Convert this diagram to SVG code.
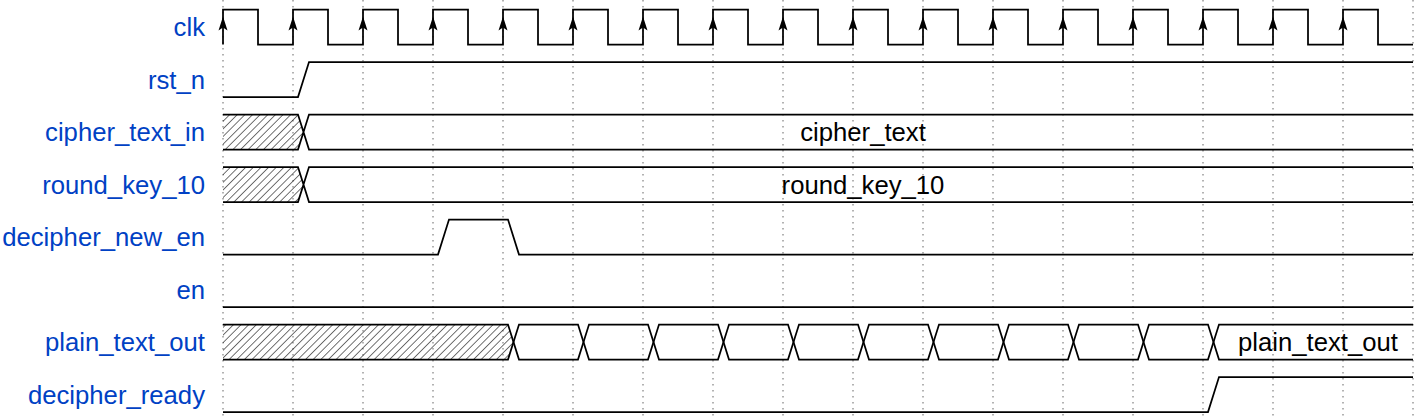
<svg xmlns="http://www.w3.org/2000/svg" width="1416" height="418" viewBox="0 0 1416 418">
<style>
.lbl{font-family:"Liberation Sans",Arial,sans-serif;font-size:25.7px;fill:#0041c4;text-anchor:end}
.dat{font-family:"Liberation Sans",Arial,sans-serif;font-size:25.7px;fill:#000;text-anchor:middle}
.w{fill:none;stroke:#000;stroke-width:1.75;stroke-linejoin:miter}
.g{stroke:#999;stroke-width:1.5;stroke-dasharray:1.5 4.5}
.hx{fill:url(#hatch);stroke:none}
</style>
<defs>
<pattern id="hatch" patternUnits="userSpaceOnUse" width="5.4" height="10" patternTransform="rotate(45)">
<line x1="0" y1="0" x2="0" y2="10" stroke="#000" stroke-width="1.1"/>
</pattern>
<path id="arr" d="M0,0 L4.5,14 L0,11 L-4.5,14 Z" fill="#000"/>
</defs>
<rect width="1416" height="418" fill="#fff"/>
<g id="grid">
<line class="g" x1="223" y1="0" x2="223" y2="418"/>
<line class="g" x1="293" y1="0" x2="293" y2="418"/>
<line class="g" x1="363" y1="0" x2="363" y2="418"/>
<line class="g" x1="433" y1="0" x2="433" y2="418"/>
<line class="g" x1="503" y1="0" x2="503" y2="418"/>
<line class="g" x1="573" y1="0" x2="573" y2="418"/>
<line class="g" x1="643" y1="0" x2="643" y2="418"/>
<line class="g" x1="713" y1="0" x2="713" y2="418"/>
<line class="g" x1="783" y1="0" x2="783" y2="418"/>
<line class="g" x1="853" y1="0" x2="853" y2="418"/>
<line class="g" x1="923" y1="0" x2="923" y2="418"/>
<line class="g" x1="993" y1="0" x2="993" y2="418"/>
<line class="g" x1="1063" y1="0" x2="1063" y2="418"/>
<line class="g" x1="1133" y1="0" x2="1133" y2="418"/>
<line class="g" x1="1203" y1="0" x2="1203" y2="418"/>
<line class="g" x1="1273" y1="0" x2="1273" y2="418"/>
<line class="g" x1="1343" y1="0" x2="1343" y2="418"/>
<line class="g" x1="1413" y1="0" x2="1413" y2="418"/>
</g>
<g id="clk">
<text class="lbl" x="205" y="36">clk</text>
<path class="w" d="M223,44.5 V9.5 H258 V44.5 H293 V9.5 H328 V44.5 H363 V9.5 H398 V44.5 H433 V9.5 H468 V44.5 H503 V9.5 H538 V44.5 H573 V9.5 H608 V44.5 H643 V9.5 H678 V44.5 H713 V9.5 H748 V44.5 H783 V9.5 H818 V44.5 H853 V9.5 H888 V44.5 H923 V9.5 H958 V44.5 H993 V9.5 H1028 V44.5 H1063 V9.5 H1098 V44.5 H1133 V9.5 H1168 V44.5 H1203 V9.5 H1238 V44.5 H1273 V9.5 H1308 V44.5 H1343 V9.5 H1378 V44.5 H1413"/>
<use href="#arr" x="223" y="16.5"/><use href="#arr" x="293" y="16.5"/><use href="#arr" x="363" y="16.5"/><use href="#arr" x="433" y="16.5"/><use href="#arr" x="503" y="16.5"/><use href="#arr" x="573" y="16.5"/><use href="#arr" x="643" y="16.5"/><use href="#arr" x="713" y="16.5"/><use href="#arr" x="783" y="16.5"/><use href="#arr" x="853" y="16.5"/><use href="#arr" x="923" y="16.5"/><use href="#arr" x="993" y="16.5"/><use href="#arr" x="1063" y="16.5"/><use href="#arr" x="1133" y="16.5"/><use href="#arr" x="1203" y="16.5"/><use href="#arr" x="1273" y="16.5"/><use href="#arr" x="1343" y="16.5"/>
</g>
<g id="rst_n">
<text class="lbl" x="205" y="88.5">rst_n</text>
<path class="w" d="M223,97 H298 L309,62 H1413"/>
</g>
<g id="cipher_text_in">
<text class="lbl" x="205" y="141">cipher_text_in</text>
<polygon class="hx" points="223,114.5 298,114.5 303.5,132 298,149.5 223,149.5"/>
<path class="w" d="M223,114.5 H298 L309,149.5 H1413 M223,149.5 H298 L309,114.5 H1413"/>
<text class="dat" x="863" y="141">cipher_text</text>
</g>
<g id="round_key_10">
<text class="lbl" x="205" y="193.5">round_key_10</text>
<polygon class="hx" points="223,167 298,167 303.5,184.5 298,202 223,202"/>
<path class="w" d="M223,167 H298 L309,202 H1413 M223,202 H298 L309,167 H1413"/>
<text class="dat" x="863" y="193.5">round_key_10</text>
</g>
<g id="decipher_new_en">
<text class="lbl" x="205" y="246">decipher_new_en</text>
<path class="w" d="M223,254.5 H438 L449,219.5 H508 L519,254.5 H1413"/>
</g>
<g id="en">
<text class="lbl" x="205" y="298.5">en</text>
<path class="w" d="M223,307 H1413"/>
</g>
<g id="plain_text_out">
<text class="lbl" x="205" y="351">plain_text_out</text>
<polygon class="hx" points="223,324.5 508,324.5 513.5,342 508,359.5 223,359.5"/>
<path class="w" d="M223,324.5 H508 L519,359.5 H578 L589,324.5 H648 L659,359.5 H718 L729,324.5 H788 L799,359.5 H858 L869,324.5 H928 L939,359.5 H998 L1009,324.5 H1068 L1079,359.5 H1138 L1149,324.5 H1208 L1219,359.5 H1413"/>
<path class="w" d="M223,359.5 H508 L519,324.5 H578 L589,359.5 H648 L659,324.5 H718 L729,359.5 H788 L799,324.5 H858 L869,359.5 H928 L939,324.5 H998 L1009,359.5 H1068 L1079,324.5 H1138 L1149,359.5 H1208 L1219,324.5 H1413"/>
<text class="dat" x="1318" y="351">plain_text_out</text>
</g>
<g id="decipher_ready">
<text class="lbl" x="205" y="403.5">decipher_ready</text>
<path class="w" d="M223,412 H1208 L1219,377 H1413"/>
</g>
</svg>
